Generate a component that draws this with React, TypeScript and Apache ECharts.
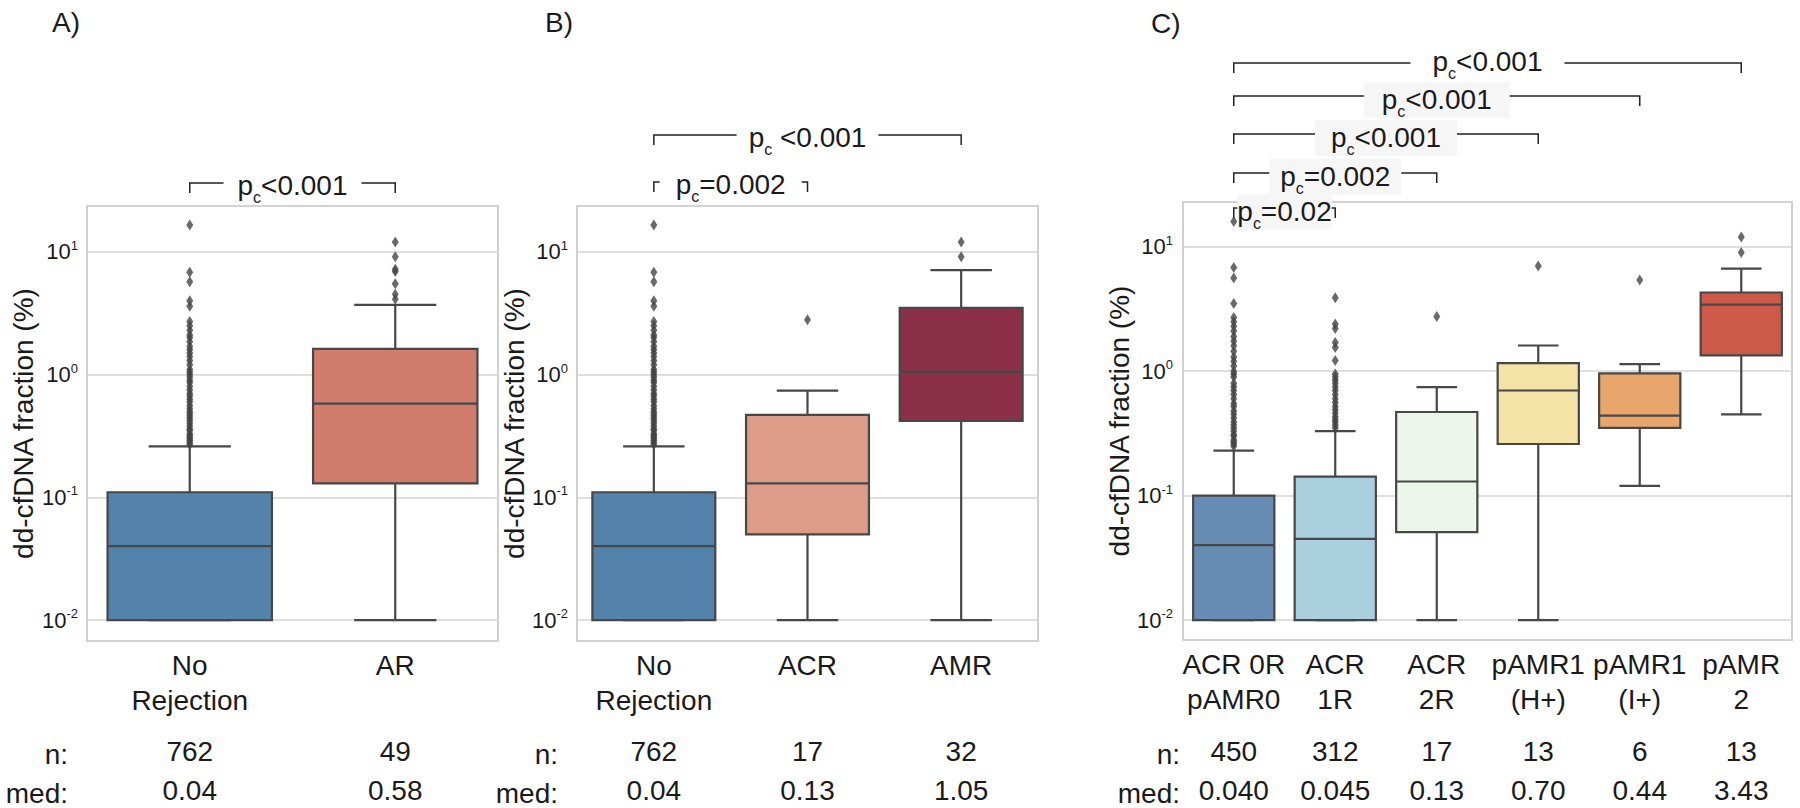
import React, { useEffect, useRef } from "react";
import * as echarts from "echarts";

// ---------- DATA ----------
const catsA = ["No\nRejection", "AR"];
const nA = ["762", "49"];
const medA = ["0.04", "0.58"];
// [min, q1, median, q3, max]
const boxA = [
  [0.01, 0.01, 0.04, 0.11, 0.26],
  [0.01, 0.13, 0.58, 1.62, 3.7],
];
const outNoRej = [
  0.27, 0.28, 0.29, 0.3, 0.31, 0.32, 0.33, 0.35, 0.36, 0.38, 0.4, 0.42, 0.44, 0.46, 0.48, 0.5,
  0.53, 0.56, 0.6, 0.63, 0.67, 0.7, 0.75, 0.8, 0.86, 0.9, 0.95, 1.0, 1.05, 1.1, 1.2, 1.3, 1.4,
  1.5, 1.6, 1.7, 1.85, 2.0, 2.1, 2.3, 2.5, 2.7, 3.6, 4.0, 5.7, 6.8, 16.5,
];
const outAR = [4.1, 4.5, 5.5, 6.9, 7.2, 9.1, 12.0];

const catsB = ["No\nRejection", "ACR", "AMR"];
const nB = ["762", "17", "32"];
const medB = ["0.04", "0.13", "1.05"];
const boxB = [
  [0.01, 0.01, 0.04, 0.11, 0.26],
  [0.01, 0.05, 0.13, 0.47, 0.74],
  [0.01, 0.42, 1.05, 3.5, 7.1],
];
const outACR = [2.8];
const outAMR = [9.1, 12.0];

const catsC = ["ACR 0R\npAMR0", "ACR\n1R", "ACR\n2R", "pAMR1\n(H+)", "pAMR1\n(I+)", "pAMR\n2"];
const nC = ["450", "312", "17", "13", "6", "13"];
const medC = ["0.040", "0.045", "0.13", "0.70", "0.44", "3.43"];
const boxC = [
  [0.01, 0.01, 0.04, 0.1, 0.23],
  [0.01, 0.01, 0.045, 0.142, 0.33],
  [0.01, 0.051, 0.13, 0.47, 0.745],
  [0.01, 0.26, 0.7, 1.16, 1.61],
  [0.12, 0.35, 0.44, 0.96, 1.14],
  [0.45, 1.34, 3.43, 4.29, 6.67],
];
const outC0 = [
  0.25, 0.26, 0.27, 0.28, 0.3, 0.31, 0.33, 0.35, 0.37, 0.39, 0.42, 0.45, 0.48, 0.52, 0.55, 0.6,
  0.65, 0.7, 0.75, 0.8, 0.9, 0.95, 1.0, 1.1, 1.2, 1.3, 1.45, 1.6, 1.75, 1.9, 2.1, 2.3, 2.5, 2.7,
  3.5, 5.6, 6.8, 16.0,
];
const outC1 = [
  0.35, 0.37, 0.39, 0.41, 0.43, 0.46, 0.49, 0.52, 0.56, 0.6, 0.65, 0.7, 0.75, 0.8, 0.85, 0.9,
  0.95, 1.22, 1.55, 1.7, 2.2, 2.4, 3.9,
];
const outC2 = [2.75];
const outC3 = [7.0];
const outC4 = [5.4];
const outC5 = [9.0, 12.0];

const pA = [{ from: 0, to: 1, text: "<0.001" }];
const pB = [
  { from: 0, to: 2, text: " <0.001" },
  { from: 0, to: 1, text: "=0.002" },
];
const pC = [
  { from: 0, to: 5, text: "<0.001" },
  { from: 0, to: 4, text: "<0.001" },
  { from: 0, to: 3, text: "<0.001" },
  { from: 0, to: 2, text: "=0.002" },
  { from: 0, to: 1, text: "=0.02" },
];

// ---------- STYLE ----------
const colorsA = ["#5382aa", "#d27c6d"];
const colorsB = ["#5382aa", "#dc9c87", "#8c2f48"];
const colorsC = ["#668cb4", "#aacfdf", "#edf6ea", "#f4e2a6", "#e9a66c", "#cd5a48"];
const FONT = "'Liberation Sans', Arial, sans-serif";
const TXT = "#1a1a1a";
const LINE = "#474747";

const layoutA = { y: [183], bg: ["#ffffff"], pad: [14], ty: [0] };
const layoutB = { y: [135, 182], bg: ["#ffffff", "#ffffff"], pad: [12, 16], ty: [0, 0] };
const layoutC = {
  y: [63, 96, 134, 173, 208],
  bg: ["#ffffff", "#f6f6f6", "#f6f6f6", "#f6f6f6", "#f6f6f6"],
  pad: [22, 18, 16, 11, 0],
  ty: [-4, 1, 1, 1, 1],
};

function renderBox(colors: string[]) {
  return (params: any, api: any) => {
    const idx = api.value(0);
    const mn = api.value(1), q1 = api.value(2), md = api.value(3), q3 = api.value(4), mx = api.value(5);
    const pMin = api.coord([idx, mn]);
    const pQ1 = api.coord([idx, q1]);
    const pMd = api.coord([idx, md]);
    const pQ3 = api.coord([idx, q3]);
    const pMax = api.coord([idx, mx]);
    const band = api.size([0, 0], [idx, 1])[0];
    const w = band * 0.8;
    const x = pMin[0];
    const ls = { stroke: LINE, lineWidth: 2.2 };
    return {
      type: "group",
      children: [
        { type: "line", shape: { x1: x, y1: pQ3[1], x2: x, y2: pMax[1] }, style: ls },
        { type: "line", shape: { x1: x, y1: pQ1[1], x2: x, y2: pMin[1] }, style: ls },
        { type: "line", shape: { x1: x - w / 4, y1: pMax[1], x2: x + w / 4, y2: pMax[1] }, style: ls },
        { type: "line", shape: { x1: x - w / 4, y1: pMin[1], x2: x + w / 4, y2: pMin[1] }, style: ls },
        {
          type: "rect",
          shape: { x: x - w / 2, y: pQ3[1], width: w, height: pQ1[1] - pQ3[1] },
          style: { fill: colors[idx], stroke: LINE, lineWidth: 2.2 },
        },
        { type: "line", shape: { x1: x - w / 2, y1: pMd[1], x2: x + w / 2, y2: pMd[1] }, style: ls },
      ],
    };
  };
}

const tickRich = {
  b: { fontSize: 22, lineHeight: 26, color: TXT, fontFamily: FONT },
  s: { fontSize: 13, lineHeight: 13, verticalAlign: "top", color: TXT, fontFamily: FONT },
};

function yAxisCfg(gridIndex: number, min: number, max: number, nameGap: number, margin: number) {
  return {
    type: "log",
    logBase: 10,
    gridIndex,
    min,
    max,
    name: "dd-cfDNA fraction (%)",
    nameLocation: "middle",
    nameGap,
    nameRotate: 90,
    nameTextStyle: { fontSize: 28, color: TXT, fontFamily: FONT },
    axisLine: { show: false },
    axisTick: { show: false },
    axisLabel: {
      margin,
      showMinLabel: false,
      showMaxLabel: false,
      formatter: (v: number) => `{b|10}{s|${Math.round(Math.log10(v))}}`,
      rich: tickRich,
    },
    splitLine: { show: true, lineStyle: { color: "#d4d4d4", width: 1.5 } },
  };
}

function xMain(gridIndex: number, data: string[]) {
  return {
    type: "category",
    gridIndex,
    data,
    axisLine: { show: false },
    axisTick: { show: false },
    splitLine: { show: false },
    axisLabel: { interval: 0, margin: 7, fontSize: 28, lineHeight: 35, color: TXT, fontFamily: FONT },
  };
}
function xRow(gridIndex: number, data: string[], offset: number) {
  return {
    type: "category",
    gridIndex,
    data,
    position: "bottom",
    offset,
    axisLine: { show: false },
    axisTick: { show: false },
    splitLine: { show: false },
    axisLabel: { interval: 0, margin: 0, fontSize: 28, lineHeight: 35, color: TXT, fontFamily: FONT },
  };
}

function boxData(box: number[][]) {
  return box.map((b, i) => [i, ...b]);
}
function outData(lists: number[][]) {
  const res: number[][] = [];
  lists.forEach((l, i) => l.forEach((v) => res.push([i, v])));
  return res;
}

function pRich(t: string) {
  return {
    text: `{p|p}{c|c}{t|${t}}`,
    rich: {
      p: { fontSize: 28, lineHeight: 28, verticalAlign: "top", fill: TXT, fontFamily: FONT },
      t: { fontSize: 28, lineHeight: 28, verticalAlign: "top", fill: TXT, fontFamily: FONT },
      c: { fontSize: 16, lineHeight: 16, verticalAlign: "top", padding: [18, 0, 0, 0], fill: TXT, fontFamily: FONT },
    },
  };
}

export default function App() {
  const ref = useRef<HTMLDivElement>(null);
  useEffect(() => {
    if (!ref.current) return;
    const chart = echarts.init(ref.current, undefined, { renderer: "svg" });
    const grid = (left: number, top: number, width: number, height: number) => ({
      left, top, width, height, show: true, borderColor: "#cfcfcf", borderWidth: 2, backgroundColor: "transparent",
    });
    const scatterBase = {
      type: "scatter",
      symbol: "diamond",
      symbolSize: [7, 11],
      itemStyle: { color: "#444444" },
      z: 4,
      silent: true,
    };
    const option: any = {
      animation: false,
      grid: [grid(87, 206, 411, 437), grid(577, 206, 461, 437), grid(1183, 202, 609, 440)],
      xAxis: [
        xMain(0, catsA), xRow(0, nA, 93), xRow(0, medA, 132),
        xMain(1, catsB), xRow(1, nB, 93), xRow(1, medB, 132),
        xMain(2, catsC), xRow(2, nC, 94), xRow(2, medC, 133),
      ],
      yAxis: [
        yAxisCfg(0, 0.00676, 23.6, 50, 9),
        yAxisCfg(1, 0.00676, 23.6, 41, 9),
        yAxisCfg(2, 0.00692, 22.9, 46, 10),
      ],
      series: [
        { type: "custom", xAxisIndex: 0, yAxisIndex: 0, renderItem: renderBox(colorsA), data: boxData(boxA), encode: { x: 0, y: [1, 2, 3, 4, 5] }, z: 2 },
        { ...scatterBase, xAxisIndex: 0, yAxisIndex: 0, data: outData([outNoRej, outAR]) },
        { type: "custom", xAxisIndex: 3, yAxisIndex: 1, renderItem: renderBox(colorsB), data: boxData(boxB), encode: { x: 0, y: [1, 2, 3, 4, 5] }, z: 2 },
        { ...scatterBase, xAxisIndex: 3, yAxisIndex: 1, data: outData([outNoRej, outACR, outAMR]) },
        { type: "custom", xAxisIndex: 6, yAxisIndex: 2, renderItem: renderBox(colorsC), data: boxData(boxC), encode: { x: 0, y: [1, 2, 3, 4, 5] }, z: 2 },
        { ...scatterBase, xAxisIndex: 6, yAxisIndex: 2, data: outData([outC0, outC1, outC2, outC3, outC4, outC5]) },
      ],
    };
    chart.setOption(option);

    const g: any[] = [];
    const addText = (x: number, y: number, text: string, align: string) =>
      g.push({
        type: "text",
        x,
        y,
        z: 100,
        style: { text, fontSize: 28, fontFamily: FONT, fill: TXT, align, verticalAlign: "middle" },
      });
    addText(52, 22, "A)", "left");
    addText(545, 22, "B)", "left");
    addText(1151, 23, "C)", "left");
    [68, 558, 1180].forEach((x) => {
      addText(x, 754, "n:", "right");
      addText(x, 793, "med:", "right");
    });

    const addBrackets = (axisIdx: number, list: any[], lay: any) => {
      list.forEach((b, i) => {
        const x1 = chart.convertToPixel({ xAxisIndex: axisIdx } as any, b.from) as number;
        const x2 = chart.convertToPixel({ xAxisIndex: axisIdx } as any, b.to) as number;
        const y = lay.y[i];
        g.push({
          type: "polyline",
          z: 100,
          shape: { points: [[x1, y + 10], [x1, y], [x2, y], [x2, y + 10]] },
          style: { stroke: "#222222", lineWidth: 1.5, fill: null },
        });
        const pr = pRich(b.text);
        g.push({
          type: "text",
          z: 101,
          x: (x1 + x2) / 2,
          y: y + 3 + lay.ty[i],
          style: {
            text: pr.text,
            rich: pr.rich,
            align: "center",
            verticalAlign: "middle",
            backgroundColor: lay.bg[i],
            padding: [3, lay.pad[i], 5, lay.pad[i]],
          },
        });
      });
    };
    addBrackets(0, pA, layoutA);
    addBrackets(3, pB, layoutB);
    addBrackets(6, pC, layoutC);
    chart.setOption({ graphic: g });

    return () => chart.dispose();
  }, []);
  return (
    <div
      ref={ref}
      style={{ position: "fixed", left: 0, top: 0, width: 1800, height: 808, background: "#ffffff" }}
    />
  );
}
